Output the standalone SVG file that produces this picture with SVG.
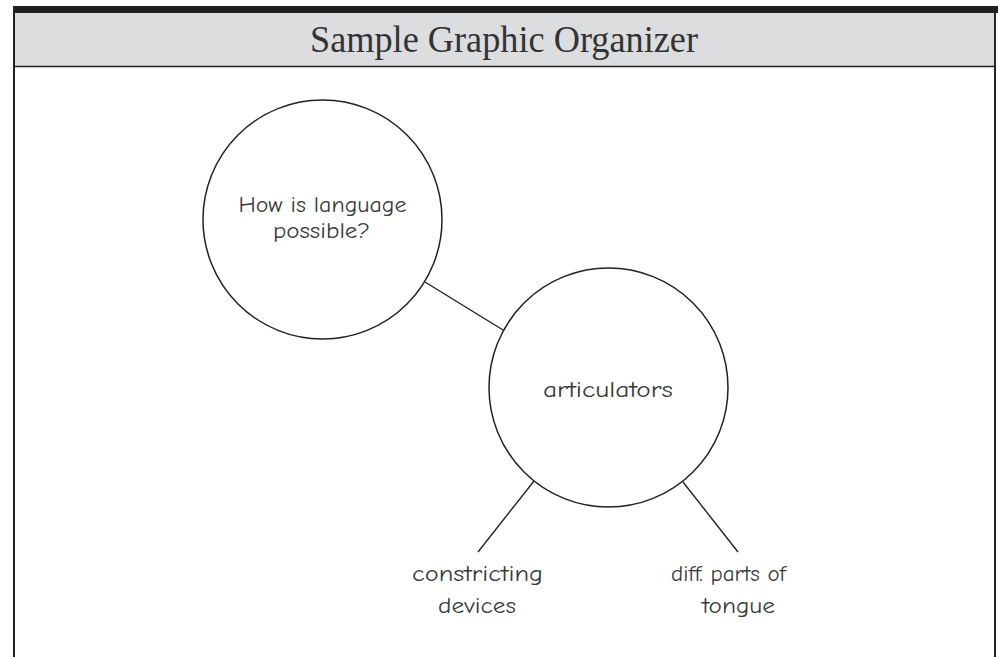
<svg xmlns="http://www.w3.org/2000/svg" width="998" height="657" viewBox="0 0 998 657">
  <style>
    .frame { fill: none; stroke: #222; stroke-width: 2; }
    .node { fill: #fff; stroke: #222; stroke-width: 1.5; }
    .conn { stroke: #222; stroke-width: 1.4; fill: none; }
    .lbl { font-family: "Comic Neue", "DejaVu Sans", "Liberation Sans", sans-serif; font-size: 23px; fill: #3a3a3a; text-anchor: middle; }
    .title { font-family: "Liberation Serif", serif; font-size: 37px; fill: #333; text-anchor: middle; }
  </style>
  <rect x="0" y="0" width="998" height="657" fill="#fff"/>
  <g id="header">
    <rect x="13" y="12" width="982" height="55" fill="#dcdddf"/>
    <rect x="13" y="6" width="985" height="7" fill="#231f20"/>
    <line x1="13" y1="66.5" x2="995" y2="66.5" stroke="#222" stroke-width="1.5"/>
    <text class="title" x="504" y="52" textLength="388" lengthAdjust="spacingAndGlyphs">Sample Graphic Organizer</text>
  </g>
  <g id="frame">
    <line class="frame" x1="14" y1="6" x2="14" y2="657"/>
    <line class="frame" x1="995" y1="12" x2="995" y2="657"/>
  </g>
  <g id="connectors">
    <line class="conn" x1="425" y1="282" x2="503" y2="330"/>
    <line class="conn" x1="534" y1="481" x2="478" y2="552"/>
    <line class="conn" x1="683" y1="482" x2="738" y2="552"/>
  </g>
  <g id="node-question">
    <circle class="node" cx="322.5" cy="219.5" r="119.5"/>
    <text class="lbl" x="322.5" y="212" textLength="168" lengthAdjust="spacingAndGlyphs">How is language</text>
    <text class="lbl" x="321.5" y="238" textLength="97" lengthAdjust="spacingAndGlyphs">possible?</text>
  </g>
  <g id="node-articulators">
    <circle class="node" cx="608.5" cy="387.5" r="119.5"/>
    <text class="lbl" x="608" y="397" textLength="130" lengthAdjust="spacingAndGlyphs">articulators</text>
  </g>
  <g id="node-constricting">
    <text class="lbl" x="477.5" y="581" textLength="131" lengthAdjust="spacingAndGlyphs">constricting</text>
    <text class="lbl" x="477" y="613" textLength="78" lengthAdjust="spacingAndGlyphs">devices</text>
  </g>
  <g id="node-tongue">
    <text class="lbl" x="728.5" y="581" textLength="115" lengthAdjust="spacingAndGlyphs">diff. parts of</text>
    <text class="lbl" x="738.5" y="613" textLength="73" lengthAdjust="spacingAndGlyphs">tongue</text>
  </g>
</svg>
